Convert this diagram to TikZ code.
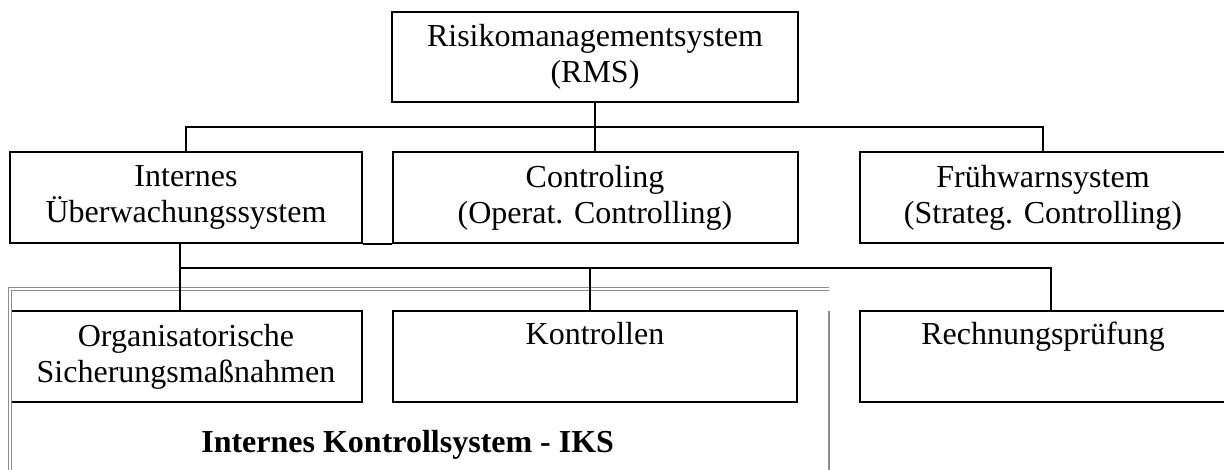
\documentclass[tikz,border=0pt]{standalone}
\usepackage{fontspec}
\setmainfont{Liberation Serif}

\begin{document}
\begin{tikzpicture}[x=1pt,y=-1pt,line width=2pt]
	\tikzstyle{box}=[draw,rectangle,inner sep=0pt,minimum height=91pt,align=center,font=\fontsize{32}{36}\selectfont]
	\tikzstyle{frame}=[draw=black!45,line width=1pt,double=white,double distance=2pt]
	\tikzstyle{annot}=[font=\fontsize{32}{36}\selectfont\bfseries,anchor=base west]

	\useasboundingbox (0,0) rectangle (1224,470);

	% Top level
	\node[box,minimum width=406pt,minimum height=90pt] (rms) at (595,57) {Risikomanagementsystem\\(RMS)};

	% Second level
	\node[box,minimum width=352pt] (ius) at (186,197.5) {Internes\\Überwachungssystem};
	\node[box,minimum width=405pt] (ctrl) at (595,197.5) {Controling\\(Operat. Controlling)};
	\node[box,minimum width=366pt] (fws) at (1043,197.5) {Frühwarnsystem\\(Strateg. Controlling)};

	% Third level
	\node[box,minimum width=352pt] (org) at (186,356.5) {Organisatorische\\Sicherungsmaßnahmen};
	\node[box,minimum width=404pt] (kon) at (595,356.5) {Kontrollen\\\strut};
	\node[box,minimum width=366pt] (rp) at (1043,356.5) {Rechnungsprüfung\\\strut};

	% IKS frame, open at the bottom
	\draw[frame] (829,289) -| (9.5,480);
	\draw[draw=black!45,line width=1.5pt] (829,311) -- (829,480);
	\node[annot] (iks) at (197,452) {Internes Kontrollsystem - IKS};

	% Connect the levels
	\coordinate (bus1) at (0,127);
	\coordinate (t1) at (180,268);
	\coordinate (t2) at (590,268);
	\coordinate (t3) at (1051,268);

	\draw (rms) -- (ctrl);
	\draw (ius.north) |- (bus1 -| fws.north) -- (fws.north);
	\draw (ius.south east) -- (ctrl.south west);

	\draw (ius.south -| t1) -- (t1) -- (t3) -- (t3 |- rp.north);
	\draw (t1) -- (t1 |- org.north);
	\draw (t2) -- (t2 |- kon.north);

\end{tikzpicture}
\end{document}
